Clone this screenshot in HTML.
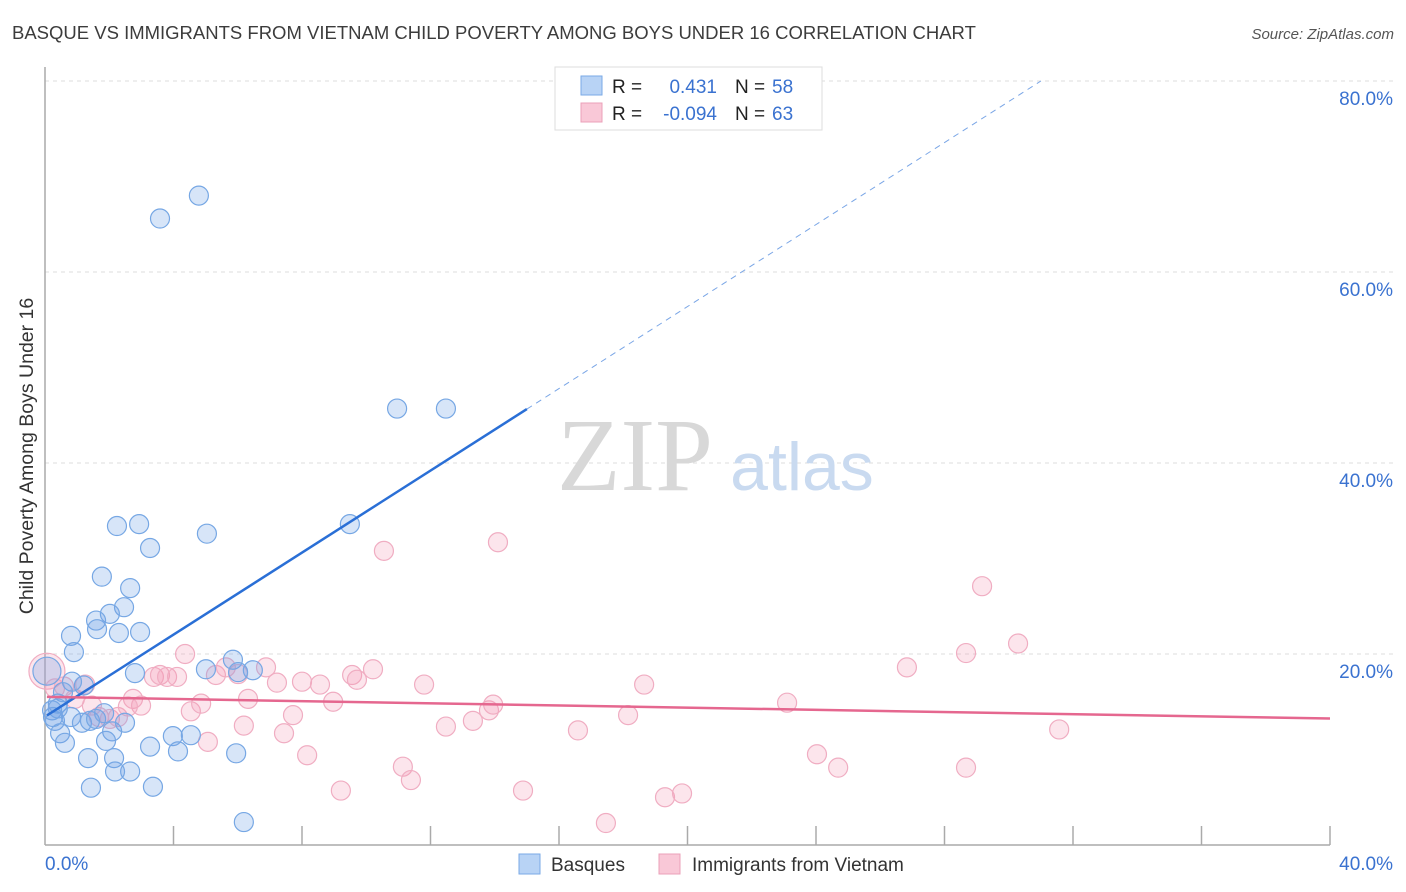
<!DOCTYPE html>
<html><head><meta charset="utf-8">
<style>
body{margin:0;background:#fff;font-family:"Liberation Sans",sans-serif;}
#wrap{position:relative;width:1406px;height:892px;overflow:hidden;}
</style></head>
<body>
<div id="wrap">
<svg id="svg" width="1406" height="892" xmlns="http://www.w3.org/2000/svg" font-family="Liberation Sans, sans-serif">
<text x="12" y="39" font-size="18.5" fill="#3c3c3c">BASQUE VS IMMIGRANTS FROM VIETNAM CHILD POVERTY AMONG BOYS UNDER 16 CORRELATION CHART</text>
<text x="1394" y="39" font-size="15" fill="#555" font-style="italic" text-anchor="end">Source: ZipAtlas.com</text>
<text transform="translate(33,456) rotate(-90)" font-size="19.5" fill="#333" text-anchor="middle">Child Poverty Among Boys Under 16</text>
<g id="grid"></g>
<text x="635" y="490" font-size="104" font-family="Liberation Serif, serif" fill="#d8d8d8" text-anchor="middle">ZIP</text>
<text x="802" y="490" font-size="68" fill="#c9daf0" text-anchor="middle">atlas</text>
<g id="axes"></g>
<g id="pts"></g>
<g id="lines"></g>
<g>
<rect x="555" y="67" width="267" height="63" fill="#fff" stroke="#ddd"/>
<rect x="581" y="76" width="21" height="19" fill="#b8d3f5" stroke="#7aaae6"/>
<rect x="581" y="103" width="21" height="19" fill="#f9c8d7" stroke="#eba0b8"/>
<text x="612" y="93" font-size="19" fill="#222">R =</text>
<text x="717" y="93" font-size="19" fill="#3a72d0" text-anchor="end">0.431</text>
<text x="735" y="93" font-size="19" fill="#222">N =</text>
<text x="772" y="93" font-size="19" fill="#3a72d0">58</text>
<text x="612" y="120" font-size="19" fill="#222">R =</text>
<text x="717" y="120" font-size="19" fill="#3a72d0" text-anchor="end">-0.094</text>
<text x="735" y="120" font-size="19" fill="#222">N =</text>
<text x="772" y="120" font-size="19" fill="#3a72d0">63</text>
</g>
<g>
<rect x="519" y="854" width="21" height="20" fill="#b8d3f5" stroke="#7aaae6"/>
<text x="551" y="871" font-size="19" fill="#333">Basques</text>
<rect x="659" y="854" width="21" height="20" fill="#f9c8d7" stroke="#eba0b8"/>
<text x="692" y="871" font-size="19" fill="#333">Immigrants from Vietnam</text>
</g>
</svg>
</div>
<script>
const xTicks=[0,40];
const yTicks=[20,40,60,80];
const blueX=[4.79,3.58,10.96,12.48,9.49,2.24,2.93,5.04,3.27,1.77,2.65,2.46,2.02,1.59,1.62,2.30,2.96,0.81,0.90,5.85,5.01,6.01,6.47,2.80,1.21,0.84,0.56,0.40,0.22,0.25,0.31,0.81,1.15,1.40,1.59,1.84,2.09,2.49,0.47,0.62,1.90,3.98,4.54,3.27,4.14,5.95,1.34,2.15,2.65,2.18,1.43,3.36,6.19,0.40,0.06];
const blueY=[68.0,65.6,45.7,45.7,33.6,33.4,33.6,32.6,31.1,28.1,26.9,24.9,24.2,23.5,22.6,22.2,22.3,21.9,20.2,19.4,18.4,18.1,18.3,18.0,16.7,17.1,16.0,14.8,14.1,13.4,13.0,13.4,12.8,13.0,13.2,13.8,11.9,12.8,11.7,10.7,10.9,11.4,11.5,10.3,9.8,9.6,9.1,9.1,7.7,7.7,6.0,6.1,2.4,14.3,18.2];
const pinkX=[0.06,0.31,0.59,1.25,1.68,0.93,1.46,2.02,2.27,2.74,2.99,2.58,3.39,3.58,3.80,4.11,4.36,4.54,4.86,5.07,5.32,5.63,6.01,6.32,6.19,6.88,7.22,7.44,7.72,8.00,8.16,8.56,8.97,9.21,9.56,9.71,10.21,10.55,11.14,11.39,11.80,12.48,13.32,13.82,13.95,14.10,14.88,16.59,17.46,18.15,18.65,19.30,19.83,23.10,24.03,24.69,26.83,28.67,28.67,29.17,30.29,31.57];
const pinkY=[18.2,16.4,16.6,16.8,13.4,15.3,14.6,13.2,13.4,15.3,14.6,14.5,17.6,17.8,17.6,17.6,20.0,14.0,14.8,10.8,17.8,18.6,17.9,15.3,12.5,18.6,17.0,11.7,13.6,17.1,9.4,16.8,15.0,5.7,17.8,17.3,18.4,30.8,8.2,6.8,16.8,12.4,13.0,14.1,14.7,31.7,5.7,12.0,2.3,13.6,16.8,5.0,5.4,14.9,9.5,8.1,18.6,20.1,8.1,27.1,21.1,12.1];
const blueFit=[13.44,2.147];   // intercept, slope
const pinkFit=[15.52,-0.057];
const NS='http://www.w3.org/2000/svg';
const X=v=>45+v/40*1285, Y=v=>845-v/20*191;
function mk(t,a,p){const e=document.createElementNS(NS,t);for(const k in a)e.setAttribute(k,a[k]);p.appendChild(e);return e;}
const grid=document.getElementById('grid'),axes=document.getElementById('axes'),pts=document.getElementById('pts'),lines=document.getElementById('lines');
yTicks.forEach(v=>{
 const l=mk('line',{x1:45,x2:1393,y1:Y(v),y2:Y(v),stroke:'#ddd','stroke-dasharray':'4,4'},grid);
 
 
 const t=mk('text',{x:1393,y:Y(v)+24,'font-size':19,fill:'#3a72d0','text-anchor':'end'},axes);t.textContent=v.toFixed(1)+'%';
 
 
});
mk('line',{x1:45,x2:45,y1:67,y2:845,stroke:'#aaa','stroke-width':1.5},axes);
mk('line',{x1:45,x2:1330,y1:845,y2:845,stroke:'#aaa','stroke-width':1.5},axes);
for(let i=1;i<=10;i++){const x=X(i*4);mk('line',{x1:x,x2:x,y1:826,y2:845,stroke:'#aaa','stroke-width':1.5},axes);}
xTicks.forEach((v,i)=>{const t=mk('text',{x:i?1393:45,y:870,'font-size':19,fill:'#3a72d0','text-anchor':i?'end':'start'},axes);t.textContent=v.toFixed(1)+'%';
 
 });
pinkX.forEach((v,i)=>{const c=mk('circle',{cx:X(v),cy:Y(pinkY[i]),r:i===0?18:9.5,fill:'rgba(244,150,180,0.25)',stroke:'#f0adc2','stroke-width':1.2},pts);
 
 });
blueX.forEach((v,i)=>{const c=mk('circle',{cx:X(v),cy:Y(blueY[i]),r:i===blueX.length-1?14:9.5,fill:'rgba(110,160,230,0.28)',stroke:'#76a7e4','stroke-width':1.2},pts);
 
 });
const bf=x=>blueFit[0]+blueFit[1]*x, pf=x=>pinkFit[0]+pinkFit[1]*x;
let l=mk('line',{x1:X(0.06),y1:Y(bf(0.06)),x2:X(15),y2:Y(bf(15)),stroke:'#2a6fd6','stroke-width':2.5},lines);


const xe=(80-blueFit[0])/blueFit[1];
l=mk('line',{x1:X(15),y1:Y(bf(15)),x2:X(xe),y2:Y(80),stroke:'#7aa6e6','stroke-width':1,'stroke-dasharray':'6,5'},lines);


l=mk('line',{x1:X(0.06),y1:Y(pf(0.06)),x2:X(40),y2:Y(pf(40)),stroke:'#e5678f','stroke-width':2.5},lines);


</script>
</body></html>
